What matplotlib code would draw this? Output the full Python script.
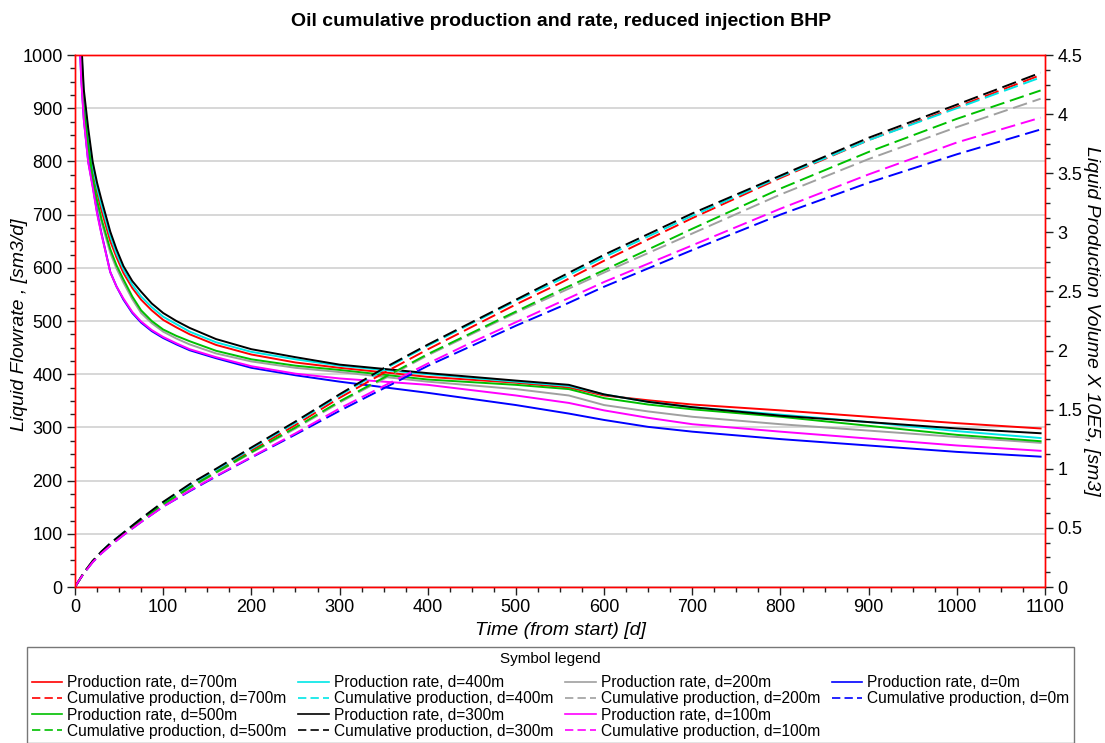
import matplotlib
matplotlib.use('Agg')
import matplotlib.pyplot as plt
from matplotlib.ticker import MultipleLocator, FuncFormatter
from matplotlib.lines import Line2D

plt.rcParams['font.family'] = ['Liberation Sans', 'DejaVu Sans']

# ---------------- data ----------------
time_rate = [4, 7, 10, 15, 20, 25, 30, 40, 47, 55, 65, 75, 87, 100, 115, 130, 160, 200, 250, 300, 400, 500, 560, 600, 650, 700, 800, 900, 1000, 1095]
rate_700 = [1140, 1000, 915, 845, 785, 742, 708, 650, 620, 590, 562, 540, 520, 502, 488, 475, 455, 437, 422, 412, 395, 384, 375, 360, 351, 343, 332, 320, 308, 298]
rate_400 = [1160, 1015, 925, 852, 792, 751, 718, 660, 627, 597, 568, 546, 526, 508, 494, 480, 460, 442, 428, 416, 400, 386, 378, 362, 348, 338, 324, 310, 293, 280]
rate_200 = [1115, 980, 895, 822, 765, 722, 686, 628, 599, 572, 541, 515, 496, 480, 467, 456, 439, 424, 412, 404, 386, 372, 360, 342, 330, 320, 306, 294, 282, 271]
rate_0   = [1085, 960, 880, 800, 755, 705, 665, 592, 565, 540, 515, 497, 481, 468, 456, 445, 430, 412, 398, 386, 365, 342, 326, 314, 301, 292, 278, 266, 254, 245]
rate_500 = [1120, 985, 900, 830, 770, 727, 692, 635, 605, 578, 546, 520, 500, 484, 472, 462, 444, 428, 416, 408, 390, 380, 372, 355, 343, 334, 320, 303, 286, 274]
rate_300 = [1180, 1030, 935, 862, 800, 760, 728, 668, 635, 603, 575, 555, 533, 515, 500, 487, 466, 447, 432, 418, 402, 388, 380, 362, 348, 338, 322, 310, 298, 289]
rate_100 = [1080, 955, 878, 798, 752, 702, 663, 592, 565, 542, 517, 499, 483, 470, 458, 447, 432, 415, 401, 392, 380, 360, 346, 332, 318, 306, 292, 279, 266, 256]

time_cum = [0, 5, 10, 20, 30, 40, 55, 75, 100, 130, 160, 200, 250, 300, 350, 400, 450, 500, 550, 600, 700, 800, 900, 1000, 1095]
cum_700 = [0, 0.06, 0.12, 0.22, 0.30, 0.365, 0.455, 0.57, 0.705, 0.85, 0.98, 1.155, 1.37, 1.60, 1.81, 2.01, 2.20, 2.39, 2.57, 2.76, 3.12, 3.46, 3.78, 4.06, 4.33]
cum_400 = [0, 0.06, 0.12, 0.22, 0.30, 0.37, 0.46, 0.575, 0.715, 0.86, 0.99, 1.17, 1.39, 1.62, 1.84, 2.04, 2.23, 2.42, 2.60, 2.79, 3.14, 3.47, 3.78, 4.05, 4.31]
cum_200 = [0, 0.06, 0.12, 0.215, 0.295, 0.36, 0.45, 0.56, 0.695, 0.835, 0.965, 1.135, 1.34, 1.56, 1.76, 1.96, 2.14, 2.32, 2.49, 2.66, 2.99, 3.32, 3.62, 3.89, 4.13]
cum_0   = [0, 0.06, 0.115, 0.21, 0.285, 0.35, 0.44, 0.55, 0.68, 0.81, 0.935, 1.095, 1.29, 1.49, 1.68, 1.87, 2.04, 2.21, 2.37, 2.54, 2.85, 3.15, 3.42, 3.66, 3.87]
cum_500 = [0, 0.06, 0.12, 0.215, 0.295, 0.36, 0.45, 0.565, 0.70, 0.84, 0.97, 1.14, 1.35, 1.57, 1.77, 1.97, 2.15, 2.33, 2.51, 2.68, 3.03, 3.37, 3.68, 3.96, 4.20]
cum_300 = [0, 0.06, 0.12, 0.22, 0.30, 0.37, 0.46, 0.58, 0.72, 0.87, 1.00, 1.18, 1.40, 1.63, 1.85, 2.05, 2.24, 2.43, 2.62, 2.81, 3.16, 3.48, 3.80, 4.08, 4.35]
cum_100 = [0, 0.06, 0.115, 0.21, 0.285, 0.35, 0.44, 0.55, 0.68, 0.815, 0.94, 1.10, 1.30, 1.51, 1.70, 1.89, 2.07, 2.24, 2.41, 2.58, 2.89, 3.20, 3.49, 3.76, 3.97]

labels_d = ['700m', '400m', '200m', '0m', '500m', '300m', '100m']
colors = ['#ff0000', '#00e6e6', '#a0a0a0', '#0000ff', '#00c000', '#000000', '#ff00ff']
rates = [rate_700, rate_400, rate_200, rate_0, rate_500, rate_300, rate_100]
cums = [cum_700, cum_400, cum_200, cum_0, cum_500, cum_300, cum_100]

# ---------------- figure ----------------
W, H = 1105, 743
fig = plt.figure(figsize=(W / 100, H / 100), dpi=100)
L, R, T, B = 75, 1045, 55, 587
ax = fig.add_axes([L / W, 1 - B / H, (R - L) / W, (B - T) / H])
ax2 = ax.twinx()

lw = 1.4
for r, c in zip(rates, colors):
    ax.plot(time_rate, r, color=c, lw=lw, zorder=3)
for cm, c in zip(cums, colors):
    ax2.plot(time_cum, cm, color=c, lw=lw, dashes=(7.5, 3))

ax.set_xlim(0, 1100)
ax.set_ylim(0, 1000)
ax2.set_ylim(0, 4.5)

ax.xaxis.set_major_locator(MultipleLocator(100))
ax.xaxis.set_minor_locator(MultipleLocator(25))
ax.yaxis.set_major_locator(MultipleLocator(100))
ax.yaxis.set_minor_locator(MultipleLocator(25))
ax2.yaxis.set_major_locator(MultipleLocator(0.5))
ax2.yaxis.set_minor_locator(MultipleLocator(0.125))
ax2.yaxis.set_major_formatter(FuncFormatter(lambda v, p: ('%g' % v)))

ax.grid(axis='y', which='major', color='#d4d4d4', lw=1.3, zorder=0)
ax.set_axisbelow(True)

for a in (ax, ax2):
    for s in a.spines.values():
        s.set_color('#ff0000')
        s.set_linewidth(1.0)
    a.tick_params(which='major', direction='out', length=6, width=1, color='#222222',
                  labelsize=13, pad=3)
    a.tick_params(which='minor', direction='out', length=3.5, width=1, color='#222222')

ax.set_xlabel('Time (from start) [d]', fontsize=14, style='italic')
ax.xaxis.set_label_coords(0.5, -0.066)
ax.set_ylabel('Liquid Flowrate , [sm3/d]', fontsize=14, style='italic')
ax.yaxis.set_label_coords(-0.0485, 0.4925)
ax2.set_ylabel('Liquid Production Volume X 10E5, [sm3]', fontsize=14, style='italic',
               rotation=270, va='center')
ax2.yaxis.set_label_coords(1.048, 0.5)

fig.text(561 / W, 1 - 22 / H, 'Oil cumulative production and rate, reduced injection BHP',
         ha='center', va='center', fontsize=14, fontweight='bold')

# ---------------- legend ----------------
handles, labs = [], []
order = [[0, 4], [1, 5], [2, 6], [3]]
for col in order:
    n = 0
    for i in col:
        handles.append(Line2D([], [], color=colors[i], lw=1.2))
        labs.append('Production rate, d=' + labels_d[i])
        handles.append(Line2D([], [], color=colors[i], lw=1.2, dashes=(5, 2.5)))
        labs.append('Cumulative production, d=' + labels_d[i])
        n += 2
    while n < 4:
        handles.append(Line2D([], [], color='none'))
        labs.append('')
        n += 1

leg = fig.legend(handles, labs, ncol=4, loc='upper left',
                 bbox_to_anchor=(27 / W, 1 - 647 / H),
                 title='Symbol legend', fontsize=11.2, title_fontsize=11,
                 frameon=True, fancybox=False, edgecolor='#555555', borderaxespad=0,
                 handlelength=1.95, handletextpad=0.32, labelspacing=0.07,
                 columnspacing=0.78, borderpad=0.3)
leg.get_frame().set_linewidth(1.0)
leg._legend_box.sep = 7

fig.savefig('out.png', dpi=100)
